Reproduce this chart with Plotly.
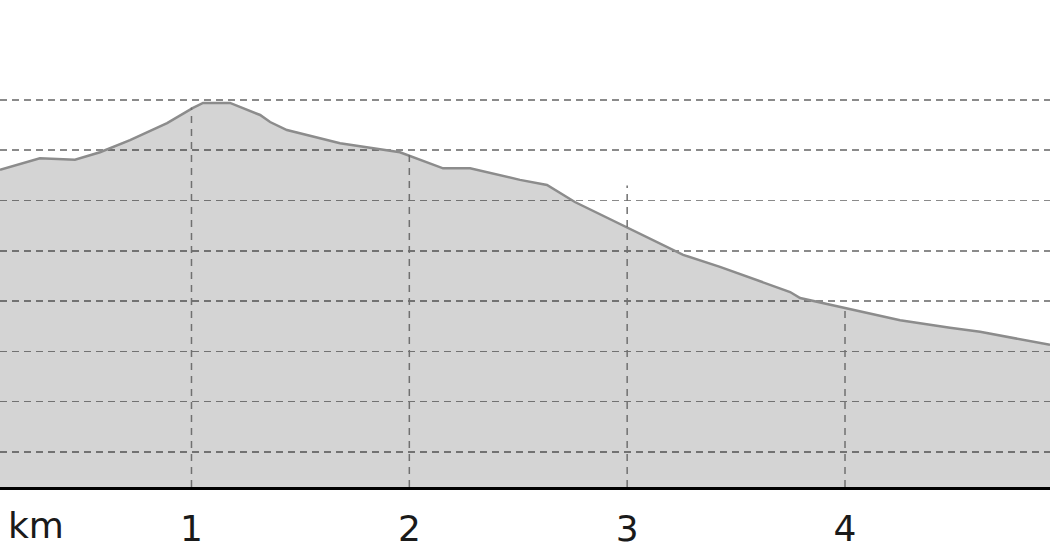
import plotly.graph_objects as go

# distance along route (km) and elevation (m)
distance_km = [0.121, 0.304, 0.465, 0.580, 0.718, 0.888, 1.007, 1.053, 1.177, 1.315,
               1.361, 1.438, 1.682, 1.957, 2.155, 2.279, 2.508, 2.632, 2.760, 2.995,
               3.257, 3.426, 3.748, 3.794, 4.000, 4.253, 4.482, 4.620, 4.941]
elevation_m = [166.1, 168.4, 168.1, 169.6, 172.0, 175.4, 178.4, 179.4, 179.4, 177.0,
               175.6, 174.0, 171.4, 169.6, 166.4, 166.4, 164.1, 163.1, 159.7, 154.7,
               149.2, 146.8, 141.8, 140.6, 138.6, 136.2, 134.7, 133.9, 131.3]

km_marks = [1, 2, 3, 4]
km_labels = ["1", "2", "3", "4"]
km_mark_tops = [178.5, 170.0, 163.0, 138.5]
grid_levels = [110, 120, 130, 140, 150, 160, 170, 180]

x_range = [0.121, 4.941]
y_range = [103.04, 199.86]

fig = go.Figure()

fig.add_trace(go.Scatter(
    x=distance_km, y=elevation_m, mode="lines",
    fill="tozeroy", fillcolor="rgba(0,0,0,0.17)",
    line=dict(color="#8c8c8c", width=2.5),
    hoverinfo="skip", showlegend=False,
))

vx, vy = [], []
for k, top in zip(km_marks, km_mark_tops):
    vx += [k, k, None]
    vy += [y_range[0], top, None]
fig.add_trace(go.Scatter(
    x=vx, y=vy, mode="lines",
    line=dict(color="#707070", width=1.5, dash="7px,6px"),
    hoverinfo="skip", showlegend=False,
))

fig.update_layout(
    width=1050, height=560,
    margin=dict(l=0, r=0, t=0, b=73),
    paper_bgcolor="white", plot_bgcolor="white",
    font=dict(family="DejaVu Sans", color="#1a1a1a"),
    hovermode=False,
    xaxis=dict(
        range=x_range, tickvals=km_marks, ticktext=km_labels,
        showgrid=False, zeroline=False,
        showline=True, linecolor="black", linewidth=3,
        ticks="", tickfont=dict(size=36), ticklabelstandoff=8,
    ),
    yaxis=dict(
        range=y_range, tickvals=grid_levels, showticklabels=False,
        showgrid=True, gridcolor="#8a8a8a", gridwidth=1.5, griddash="7px,5px",
        zeroline=False, showline=False, ticks="",
    ),
    annotations=[dict(
        text="km", xref="paper", yref="paper", x=0.0, y=0.0,
        xanchor="left", yanchor="top", xshift=6, yshift=-16,
        showarrow=False, font=dict(size=36, family="DejaVu Sans", color="#1a1a1a"),
    )],
)

fig.write_html(
    "out.html",
    config={"displayModeBar": False, "staticPlot": True},
    post_script="document.body.style.margin='0';document.body.style.overflow='hidden';",
)
